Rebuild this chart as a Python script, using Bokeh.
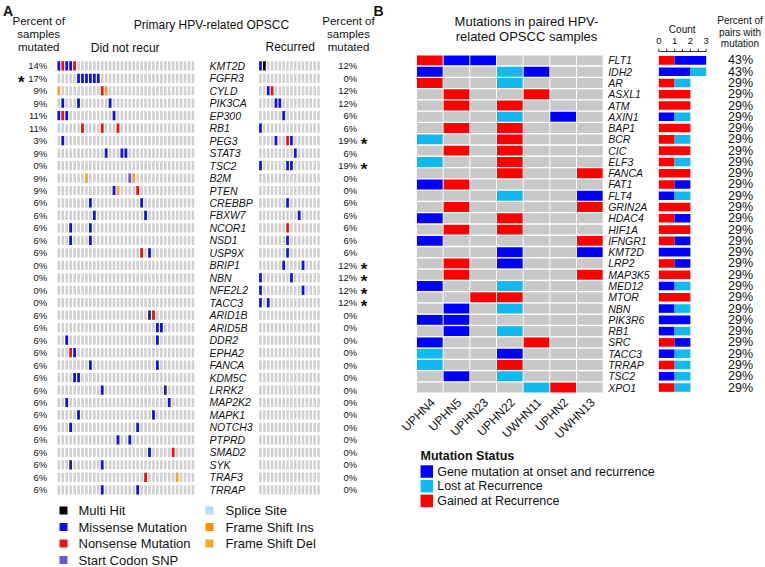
import numpy as np
from bokeh.plotting import figure
from bokeh.models import Range1d
from bokeh.embed import file_html
from bokeh.resources import INLINE
from bokeh.core.properties import value

# ---------------- Panel A data ----------------
genes_a = ["KMT2D", "FGFR3", "CYLD", "PIK3CA", "EP300", "RB1", "PEG3", "STAT3", "TSC2",
           "B2M", "PTEN", "CREBBP", "FBXW7", "NCOR1", "NSD1", "USP9X", "BRIP1", "NBN",
           "NFE2L2", "TACC3", "ARID1B", "ARID5B", "DDR2", "EPHA2", "FANCA", "KDM5C",
           "LRRK2", "MAP2K2", "MAPK1", "NOTCH3", "PTPRD", "SMAD2", "SYK", "TRAF3", "TRRAP"]
pct_not_recurred = [14, 17, 9, 9, 11, 11, 3, 9, 0, 9, 9, 6, 6, 6, 6, 6, 0, 0, 0, 0,
                    6, 6, 6, 6, 6, 6, 6, 6, 6, 6, 6, 6, 6, 6, 6]
pct_recurred = [12, 0, 12, 12, 6, 6, 19, 6, 19, 0, 0, 6, 6, 6, 6, 6, 12, 12, 12, 12,
                0, 0, 0, 0, 0, 0, 0, 0, 0, 0, 0, 0, 0, 0, 0]
star_left = ["FGFR3"]
star_right = ["PEG3", "TSC2", "BRIP1", "NBN", "NFE2L2", "TACC3"]
n_not_recurred = 35
n_recurred = 16
# sample number + class code (M missense, N nonsense, X multi hit, S start codon SNP,
# P splice site, I frame shift ins, D frame shift del, K other/dark)
not_recurred_calls = ["1M 2N 3M 4M 5N", "6M 7M 8M 9M 10M 11M", "1D 12N 13D", "2M 6M 14M",
                      "1M 2N 3M 15M", "2P 7N 12N 16N", "2M", "13M 17M 18M", "",
                      "8D 19S 20D", "15M 16D 21N", "9M 22M", "10M 23M", "4M 9M", "4M 9M",
                      "22N 24M", "", "", "", "",
                      "24K 25N", "26M 27M", "3M 26M", "4N 5M", "9M 26M", "5M 6M", "12M 28K",
                      "3M 29M", "6M 25M", "4M 21M", "16M 19M", "24M 30N", "4K 12M",
                      "23N 31D", "12M 21M"]
recurred_calls = ["1M 2X", "", "3M 4N", "5M 6M", "7M", "1M", "5M 8N 9M", "10M", "1M 8M 9M",
                  "", "", "8M", "11M", "8N", "8M", "8M", "7M 12M", "1M 9M", "1M 12M", "1M 3M",
                  "", "", "", "", "", "", "", "", "", "", "", "", "", "", ""]
legend_a_left = ["Multi Hit", "Missense Mutation", "Nonsense Mutation", "Start Codon SNP"]
legend_a_left_codes = ["X", "M", "N", "S"]
legend_a_right = ["Splice Site", "Frame Shift Ins", "Frame Shift Del"]
legend_a_right_codes = ["P", "I", "D"]

# ---------------- Panel B data ----------------
pairs_b = ["UPHN4", "UPHN5", "UPHN23", "UPHN22", "UWHN11", "UPHN2", "UWHN13"]
genes_b = ["FLT1", "IDH2", "AR", "ASXL1", "ATM", "AXIN1", "BAP1", "BCR", "CIC", "ELF3",
           "FANCA", "FAT1", "FLT4", "GRIN2A", "HDAC4", "HIF1A", "IFNGR1", "KMT2D", "LRP2",
           "MAP3K5", "MED12", "MTOR", "NBN", "PIK3R6", "RB1", "SRC", "TACC3", "TRRAP",
           "TSC2", "XPO1"]
# R gained at recurrence, B mutated at onset and recurrence, C lost at recurrence
status_b = ["RBB....", "B..CB..", "R..C...", ".R..R..", ".R.R...", "...C.B.", ".R.R...",
            "C..R...", ".R.R...", "C..R...", "...R..R", "BR.....", "...C..B", ".R....R",
            "B..R...", ".R.R...", "B.....R", "...B..B", ".R.B...", ".R....R", "B..C...",
            "..RR...", ".B.C...", "BB.....", ".B.C...", "B...R..", "C..B...", "C..R...",
            ".B.C...", "....CR."]
status_codes = ["B", "C", "R"]
status_labels = ["Gene mutation at onset and recurrence", "Lost at Recurrence",
                 "Gained at Recurrence"]
stack_order = ["R", "B", "C"]
count_ticks = [0, 1, 2, 3]

# ---------------- styles ----------------
FONT = value("Liberation Sans")
A_COL = {"X": "#000000", "M": "#1010e6", "N": "#ee1111", "S": "#6a5acd", "P": "#b4dcf4",
         "I": "#ff8c00", "D": "#f7a628", "K": "#23236e"}
B_COL = {"R": "#ff0000", "B": "#0000ff", "C": "#12b8f0", ".": "#c8c8c8"}
GRAY_A = "#d0d0d0"

W, H = 765, 567
def xr(px0, pitch): return Range1d(start=-px0 / pitch, end=(W - px0) / pitch)
def yr(px0, pitch): return Range1d(start=(H - px0) / pitch, end=-px0 / pitch)

p = figure(width=W, height=H, x_range=Range1d(0, W), y_range=Range1d(H, 0),
           output_backend="svg", toolbar_location=None, x_axis_type=None, y_axis_type=None,
           min_border=0)
p.outline_line_color = None
p.background_fill_color = "white"
p.border_fill_color = "white"
p.extra_x_ranges = {"aL": xr(58.33, 3.943), "aR": xr(260.0, 3.867),
                    "bx": xr(429.3, 26.67), "cnt": xr(658.3, 15.8)}
p.extra_y_ranges = {"ay": yr(65.3, 12.47), "by": yr(59.9, 11.28)}

def txt(x, y, t, size, align="center", baseline="middle", style="normal", xrn="default",
        yrn="default", color="#111111", **kw):
    p.text(x=x, y=y, text=t, text_font=FONT, text_font_size=value(size),
           text_font_style=style, text_align=align, text_baseline=baseline,
           text_color=color, x_range_name=xrn, y_range_name=yrn, **kw)

# ---------------- Panel A ----------------
def parse(calls):
    xs, ys, cs = [], [], []
    for j, c in enumerate(calls):
        for tok in c.split():
            xs.append(int(tok[:-1]) - 1)
            ys.append(j)
            cs.append(A_COL[tok[-1]])
    return xs, ys, cs

ng = len(genes_a)
for n, rng, calls in [(n_not_recurred, "aL", not_recurred_calls), (n_recurred, "aR", recurred_calls)]:
    ii, jj = np.meshgrid(np.arange(n), np.arange(ng))
    p.rect(x=ii.ravel(), y=jj.ravel(), width=0.66, height=0.74, fill_color=GRAY_A,
           line_color=None, x_range_name=rng, y_range_name="ay")
    xs, ys, cs = parse(calls)
    p.rect(x=xs, y=ys, width=0.7, height=0.74, fill_color=cs, line_color=None,
           x_range_name=rng, y_range_name="ay")

rows_a = list(range(ng))
txt([209] * ng, rows_a, genes_a, "10.5px", align="left", style="italic", yrn="ay")
txt([46.7] * ng, rows_a, [f"{v}%" for v in pct_not_recurred], "9.5px", align="right", yrn="ay")
txt([356.7] * ng, rows_a, [f"{v}%" for v in pct_recurred], "9.5px", align="right", yrn="ay")
sl = [genes_a.index(g) for g in star_left]
sr = [genes_a.index(g) for g in star_right]
txt([20.7] * len(sl), sl, ["*"] * len(sl), "17px", style="bold", yrn="ay", y_offset=4)
txt([363.5] * len(sr), sr, ["*"] * len(sr), "17px", style="bold", yrn="ay", y_offset=4)

txt([7.5], [10], ["A"], "14px", style="bold")
txt([38.2] * 3, [20, 33.3, 46.5], ["Percent of", "samples", "mutated"], "11.5px")
txt([348] * 3, [20, 33.3, 46.5], ["Percent of", "samples", "mutated"], "11.5px")
txt([211], [24], ["Primary HPV-related OPSCC"], "12px")
txt([124.7], [47], ["Did not recur"], "12px")
txt([289.7], [46.5], ["Recurred"], "12px")

for col_x, txt_x, labels, codes in [(63, 78, legend_a_left, legend_a_left_codes),
                                    (209, 225, legend_a_right, legend_a_right_codes)]:
    ys = [510 + 16.5 * k for k in range(len(labels))]
    p.scatter(x=[col_x] * len(labels), y=ys, marker="square", size=8,
              fill_color=[A_COL[c] for c in codes], line_color=None)
    txt([txt_x] * len(labels), ys, labels, "13px", align="left")

# ---------------- Panel B ----------------
nb = len(genes_b)
bx, by, bc = [], [], []
for j, s in enumerate(status_b):
    for k, ch in enumerate(s):
        bx.append(k); by.append(j); bc.append(B_COL[ch])
p.rect(x=bx, y=by, width=0.965, height=0.88, fill_color=bc, line_color=None,
       x_range_name="bx", y_range_name="by")

rows_b = list(range(nb))
txt([607.7] * nb, rows_b, genes_b, "10.5px", align="left", style="italic", yrn="by")

# stacked count bars
for j, s in enumerate(status_b):
    left = 0
    for code in stack_order:
        c = s.count(code)
        if c:
            p.hbar(y=[j], left=[left], right=[left + c], height=0.76, fill_color=B_COL[code],
                   line_color=None, x_range_name="cnt", y_range_name="by")
            left += c

# count axis
p.segment(x0=[count_ticks[0]], x1=[count_ticks[-1]], y0=[51], y1=[51],
          line_color="#333333", line_width=1, x_range_name="cnt")
minor = np.arange(count_ticks[0], count_ticks[-1] + 0.01, 0.5)
p.segment(x0=minor, x1=minor, y0=[51] * len(minor), y1=[48.3] * len(minor),
          line_color="#333333", line_width=1, x_range_name="cnt")
txt(count_ticks, [40] * len(count_ticks), [str(t) for t in count_ticks], "9.5px", xrn="cnt")
txt([681.7], [29.3], ["Count"], "10px")

# percent of pairs
pct_b = [f"{round(100 * sum(ch != '.' for ch in s) / len(pairs_b))}%" for s in status_b]
txt([740] * nb, rows_b, pct_b, "12.5px", yrn="by")
txt([739.5] * 3, [20, 31.7, 42.7], ["Percent of", "pairs with", "mutation"], "10px")

# sample labels (rotated)
txt(list(range(len(pairs_b))), [400] * len(pairs_b), pairs_b, "12px", align="right",
    xrn="bx", angle=np.pi / 4, x_offset=3)

txt([378], [10], ["B"], "14px", style="bold")
txt([526] * 2, [20.5, 35.5], ["Mutations in paired HPV-", "related OPSCC samples"], "13px")

# legend B
txt([420], [455], ["Mutation Status"], "12.5px", align="left", style="bold")
ly = [471 + 14.7 * k for k in range(len(status_codes))]
p.scatter(x=[426.3] * len(status_codes), y=ly, marker="square", size=12.5,
          fill_color=[B_COL[c] for c in status_codes], line_color=None)
txt([436.7] * len(status_codes), ly, status_labels, "12.5px", align="left")

open("out.html", "w").write(file_html(p, INLINE, title="chart"))
